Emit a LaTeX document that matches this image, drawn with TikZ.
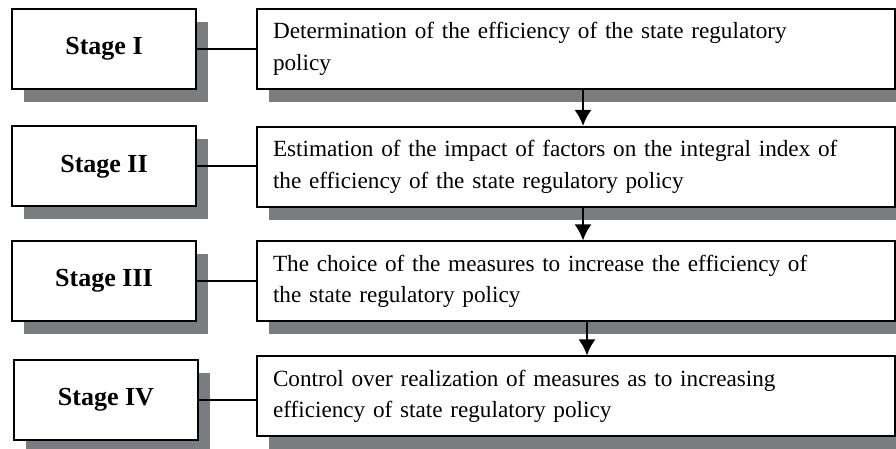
\documentclass[tikz,border=0pt]{standalone}
\usepackage{fontspec}
\setmainfont{Liberation Serif}
\usetikzlibrary{shadows,arrows.meta}
\definecolor{shadegray}{RGB}{122,125,128}
\begin{document}
\begin{tikzpicture}[x=0.5pt,y=-0.5pt,>={Latex[length=8pt,width=8.5pt]},thick,
  boxshadow/.style={drop shadow={shadow xshift=6pt,shadow yshift=-6.5pt,fill=shadegray,opacity=1}},
  stagebox/.style={draw,line width=1pt,fill=white,boxshadow,minimum width=92pt,minimum height=40pt,
    font=\fontsize{13}{15}\selectfont\bfseries},
  taskbox/.style={draw,line width=1pt,fill=white,boxshadow,minimum height=40pt,text width=303pt,
    inner xsep=8pt,align=left,font=\fontsize{11.6}{15.8}\selectfont}]
\path[use as bounding box] (0,0) rectangle (896,449);
\clip (0,0) rectangle (896,449);
% stages on the left
\node[stagebox] (s1) at (104,49) {Stage I};
\node[stagebox] (s2) at (104,166.5) {Stage II};
\node[stagebox] (s3) at (104,281) {Stage III};
\node[stagebox] (s4) at (106,400) {Stage IV};
% what is done at each stage
\node[taskbox] (d1) at (576,49) {Determination of the efficiency of the state regulatory\\policy};
\node[taskbox] (d2) at (576,167) {Estimation of the impact of factors on the integral index of\\the efficiency of the state regulatory policy};
\node[taskbox] (d3) at (576,281.5) {The choice of the measures to increase the efficiency of\\the state regulatory policy};
\node[taskbox] (d4) at (576,396.5) {Control over realization of measures as to increasing\\efficiency of state regulatory policy};
\foreach \i in {1,...,4}{
	\draw[line width=1pt] (s\i.east) -- (s\i.east -| d\i.west);
}
\coordinate (a1) at (583,0);
\coordinate (a2) at (583,0);
\coordinate (a3) at (587,0);
\foreach \i/\j in {1/2,2/3,3/4}{
	\draw[->,line width=1.2pt] (d\i.south -| a\i) -- (d\j.north -| a\i);
}
\end{tikzpicture}
\end{document}
